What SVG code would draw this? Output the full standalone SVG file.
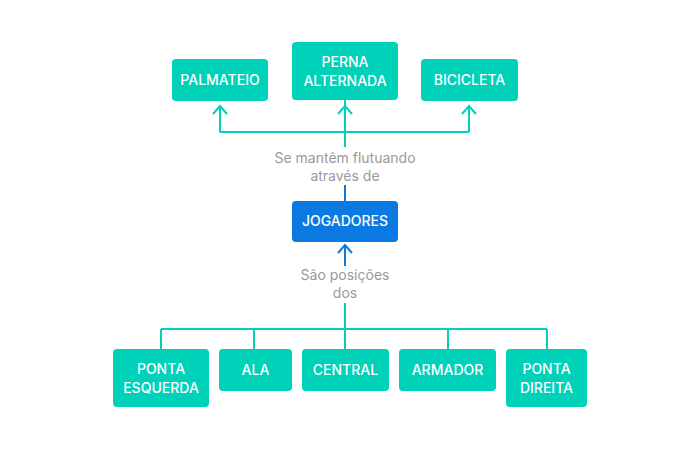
<svg xmlns="http://www.w3.org/2000/svg" width="700" height="450" viewBox="0 0 700 450">
<style>
.n{fill:#00d1b9}
.b{fill:#0a7ae2}
.t{font-family:Inter,"Noto Sans",sans-serif;font-size:14px;font-weight:500;fill:#fff;text-anchor:middle}
.l{font-family:Inter,"Noto Sans",sans-serif;font-size:14px;fill:#9a9a9a;text-anchor:middle}
.c{fill:none;stroke:#00d1b9;stroke-width:2}
.cb{fill:none;stroke:#0a7ae2;stroke-width:2}
</style>
<rect width="700" height="450" fill="#fff"/>
<g id="connectors">
<path class="c" d="M345 100V147M220 132H469M220 132V106M469 132V106"/>
<path class="c" d="M213 114L220 106L227 114M338 114L345 106L352 114M462 114L469 106L476 114"/>
<path class="cb" d="M345 185V201"/>
<path class="cb" d="M345 266V245M338 253L345 245L352 253"/>
<path class="c" d="M345 303V349M161 329H547M161 329V349M254 329V349M448 329V349M547 329V349"/>
</g>
<g id="label-top"><text class="l" x="345" y="163">Se mantêm flutuando</text><text class="l" x="345" y="181">através de</text></g>
<g id="label-bottom"><text class="l" x="345" y="280">São posições</text><text class="l" x="345" y="298">dos</text></g>
<g id="palmateio"><rect class="n" x="172" y="59" width="96" height="42" rx="4"/><text class="t" x="220" y="85">PALMATEIO</text></g>
<g id="perna-alternada"><rect class="n" x="292" y="42" width="106" height="58" rx="4"/><text class="t" x="345" y="67">PERNA</text><text class="t" x="345" y="86">ALTERNADA</text></g>
<g id="bicicleta"><rect class="n" x="421" y="59" width="97" height="42" rx="4"/><text class="t" x="469.5" y="85">BICICLETA</text></g>
<g id="jogadores"><rect class="b" x="292" y="201" width="106" height="41" rx="4"/><text class="t" x="345" y="226">JOGADORES</text></g>
<g id="ponta-esquerda"><rect class="n" x="113" y="349" width="96" height="58" rx="4"/><text class="t" x="161" y="374">PONTA</text><text class="t" x="161" y="393">ESQUERDA</text></g>
<g id="ala"><rect class="n" x="219" y="349" width="73" height="42" rx="4"/><text class="t" x="255.5" y="375">ALA</text></g>
<g id="central"><rect class="n" x="302" y="349" width="87" height="42" rx="4"/><text class="t" x="345.5" y="375">CENTRAL</text></g>
<g id="armador"><rect class="n" x="399" y="349" width="97" height="42" rx="4"/><text class="t" x="447.5" y="375">ARMADOR</text></g>
<g id="ponta-direita"><rect class="n" x="506" y="349" width="81" height="58" rx="4"/><text class="t" x="546.5" y="374">PONTA</text><text class="t" x="546.5" y="393">DIREITA</text></g>
</svg>
